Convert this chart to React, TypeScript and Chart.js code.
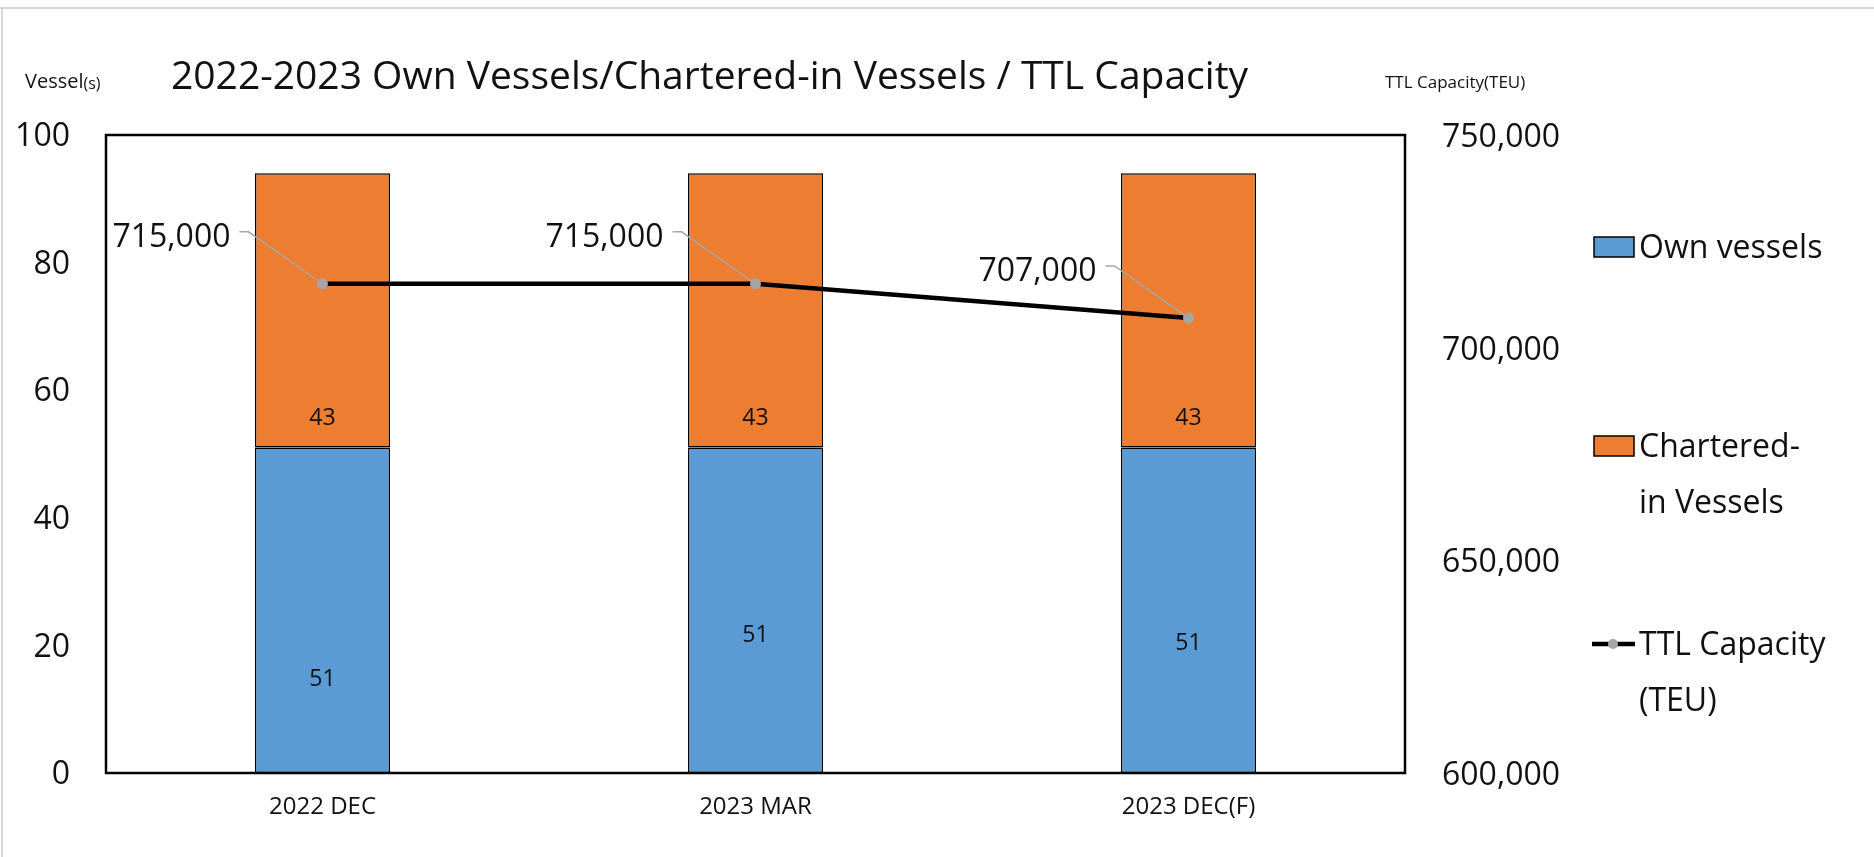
import { useEffect, useRef } from "react";
import { Chart, registerables } from "chart.js";

Chart.register(...registerables);

// ---------- data ----------
const categories = ["2022 DEC", "2023 MAR", "2023 DEC(F)"];
const ownVessels = [51, 51, 51];
const charteredVessels = [43, 43, 43];
const ttlCapacity = [715000, 715000, 707000];

const vesselAxisMin = 0;
const vesselAxisMax = 100;
const vesselAxisStep = 20;
const capacityAxisMin = 600000;
const capacityAxisMax = 750000;
const capacityAxisStep = 50000;

const chartTitle = "2022-2023 Own Vessels/Chartered-in Vessels / TTL Capacity";
const leftAxisTitle = "Vessel";
const leftAxisTitleSuffix = "(s)";
const rightAxisTitle = "TTL Capacity(TEU)";
const seriesNames = ["Own vessels", "Chartered-in Vessels", "TTL Capacity (TEU)"];
const legendLines = [["Own vessels"], ["Chartered-", "in Vessels"], ["TTL Capacity", "(TEU)"]];

// label anchors (in vessel-axis units), as placed in the original
const ownLabelAnchor = [14.6, 21.6, 20.3];
const charteredLabelAnchor = [55.5, 55.5, 55.5];

const FONT = "'Open Sans', 'Noto Sans', sans-serif";
const TEXT = "#111111";
const BLUE = "#5B9BD5";
const ORANGE = "#ED7D31";
const GREY = "#A5A5A5";

const fmt = (v: number) => v.toLocaleString("en-US");

const framePlugin = {
  id: "frame",
  beforeDraw(chart: any) {
    const { ctx, width, height } = chart;
    ctx.save();
    ctx.fillStyle = "#ffffff";
    ctx.fillRect(0, 0, width, height);
    ctx.strokeStyle = "#d9d9d9";
    ctx.lineWidth = 2;
    ctx.beginPath();
    ctx.moveTo(0, 8);
    ctx.lineTo(width, 8);
    ctx.moveTo(2, 8);
    ctx.lineTo(2, height);
    ctx.stroke();
    ctx.restore();
  },
};

const plotBorderPlugin = {
  id: "plotBorder",
  afterDatasetsDraw(chart: any) {
    const { ctx, chartArea } = chart;
    ctx.save();
    ctx.strokeStyle = "#000";
    ctx.lineWidth = 2.5;
    ctx.strokeRect(chartArea.left, chartArea.top, chartArea.right - chartArea.left, chartArea.bottom - chartArea.top);
    ctx.restore();
  },
};

const labelsPlugin = {
  id: "valueLabels",
  afterDatasetsDraw(chart: any) {
    const { ctx } = chart;
    const yScale = chart.scales.y;
    ctx.save();
    ctx.fillStyle = TEXT;
    ctx.textAlign = "center";
    ctx.textBaseline = "middle";
    ctx.font = `23px ${FONT}`;
    const anchors = [ownLabelAnchor, charteredLabelAnchor];
    [0, 1].forEach((di) => {
      const meta = chart.getDatasetMeta(di);
      const values = chart.data.datasets[di].data as number[];
      meta.data.forEach((el: any, j: number) => {
        ctx.fillText(String(values[j]), el.x, yScale.getPixelForValue(anchors[di][j]));
      });
    });
    // line labels with leader lines
    const lmeta = chart.getDatasetMeta(2);
    const lvalues = chart.data.datasets[2].data as number[];
    ctx.font = `32px ${FONT}`;
    ctx.textAlign = "right";
    lmeta.data.forEach((pt: any, j: number) => {
      const sx = pt.x - 83;
      const sy = pt.y - 52;
      const kx = sx + 9;
      const ang = Math.atan2(pt.y - sy, pt.x - kx);
      const ex = pt.x - Math.cos(ang) * 5;
      const ey = pt.y - Math.sin(ang) * 5;
      ctx.strokeStyle = "#A6A6A6";
      ctx.lineWidth = 1.5;
      ctx.beginPath();
      ctx.moveTo(sx, sy);
      ctx.lineTo(kx, sy);
      ctx.lineTo(ex, ey);
      ctx.stroke();
      ctx.fillText(fmt(lvalues[j]), pt.x - 92, pt.y - 46);
    });
    ctx.restore();
  },
};

const titlesPlugin = {
  id: "titles",
  afterDraw(chart: any) {
    const { ctx } = chart;
    ctx.save();
    ctx.fillStyle = TEXT;
    ctx.textBaseline = "middle";
    ctx.textAlign = "left";
    ctx.font = `39px ${FONT}`;
    ctx.fillText(chartTitle, 171, 78);
    ctx.font = `20px ${FONT}`;
    ctx.fillText(leftAxisTitle, 25, 82);
    const w = ctx.measureText(leftAxisTitle).width;
    ctx.font = `16px ${FONT}`;
    ctx.fillText(leftAxisTitleSuffix, 25 + w, 84);
    ctx.font = `17px ${FONT}`;
    ctx.fillText(rightAxisTitle, 1385, 83);
    ctx.restore();
  },
};

const legendPlugin = {
  id: "customLegend",
  afterDraw(chart: any) {
    const { ctx } = chart;
    const x = 1594;
    const rows = [247, 446, 644];
    const lineGap = 56;
    ctx.save();
    ctx.font = `32px ${FONT}`;
    ctx.textAlign = "left";
    ctx.textBaseline = "middle";
    chart.data.datasets.forEach((ds: any, i: number) => {
      const cy = rows[i];
      if (ds.type === "line") {
        ctx.strokeStyle = ds.borderColor;
        ctx.lineWidth = 4.5;
        ctx.beginPath();
        ctx.moveTo(x - 2, cy);
        ctx.lineTo(x + 41, cy);
        ctx.stroke();
        ctx.fillStyle = ds.pointBackgroundColor;
        ctx.beginPath();
        ctx.arc(x + 19, cy, 5, 0, Math.PI * 2);
        ctx.fill();
      } else {
        ctx.fillStyle = ds.backgroundColor;
        ctx.fillRect(x, cy - 10, 40, 20);
        ctx.strokeStyle = "#000";
        ctx.lineWidth = 1.5;
        ctx.strokeRect(x, cy - 10, 40, 20);
      }
      ctx.fillStyle = TEXT;
      legendLines[i].forEach((t, k) => {
        ctx.fillText(t, x + 45, cy + 2 + k * lineGap);
      });
    });
    ctx.restore();
  },
};

export default function App() {
  const canvasRef = useRef<HTMLCanvasElement | null>(null);

  useEffect(() => {
    document.body.style.margin = "0";
    document.body.style.overflow = "hidden";
    const canvas = canvasRef.current;
    if (!canvas) return;
    const chart = new Chart(canvas, {
      type: "bar",
      data: {
        labels: categories,
        datasets: [
          {
            type: "bar",
            label: seriesNames[0],
            data: ownVessels,
            backgroundColor: BLUE,
            borderColor: "#000",
            borderWidth: 1.5,
            borderSkipped: false,
            yAxisID: "y",
            order: 1,
            barPercentage: 0.312,
            categoryPercentage: 1,
          },
          {
            type: "bar",
            label: seriesNames[1],
            data: charteredVessels,
            backgroundColor: ORANGE,
            borderColor: "#000",
            borderWidth: 1.5,
            borderSkipped: false,
            yAxisID: "y",
            order: 1,
            barPercentage: 0.312,
            categoryPercentage: 1,
          },
          {
            type: "line",
            label: seriesNames[2],
            data: ttlCapacity,
            borderColor: "#000",
            borderWidth: 4.5,
            pointBackgroundColor: GREY,
            pointBorderWidth: 0,
            pointRadius: 5.5,
            yAxisID: "y1",
            order: 0,
            tension: 0,
          },
        ],
      } as any,
      options: {
        animation: false,
        responsive: false,
        layout: { padding: { left: 0, top: 135, right: 269, bottom: 0 } },
        plugins: {
          legend: { display: false },
          tooltip: { enabled: false },
          title: { display: false },
        },
        scales: {
          x: {
            stacked: true,
            grid: { display: false },
            border: { display: false },
            ticks: { color: TEXT, font: { family: FONT, size: 24 }, padding: 12 },
            afterFit: (s: any) => {
              s.height = 84;
            },
          },
          y: {
            type: "linear",
            position: "left",
            stacked: true,
            min: vesselAxisMin,
            max: vesselAxisMax,
            grid: { display: false },
            border: { display: false },
            ticks: {
              stepSize: vesselAxisStep,
              color: TEXT,
              font: { family: FONT, size: 32 },
              padding: 28,
              labelOffset: 2,
            },
            afterFit: (s: any) => {
              s.width = 106;
            },
          },
          y1: {
            type: "linear",
            position: "right",
            min: capacityAxisMin,
            max: capacityAxisMax,
            grid: { display: false },
            border: { display: false },
            ticks: {
              stepSize: capacityAxisStep,
              color: TEXT,
              font: { family: FONT, size: 32 },
              padding: 29,
              labelOffset: 3,
              callback: (v: any) => fmt(Number(v)),
            },
            afterFit: (s: any) => {
              s.width = 200;
            },
          },
        },
      } as any,
      plugins: [framePlugin, plotBorderPlugin, labelsPlugin, titlesPlugin, legendPlugin],
    });
    return () => chart.destroy();
  }, []);

  return (
    <div style={{ position: "absolute", left: 0, top: 0, width: 1874, height: 857 }}>
      <canvas ref={canvasRef} width={1874} height={857} style={{ display: "block" }} />
    </div>
  );
}
